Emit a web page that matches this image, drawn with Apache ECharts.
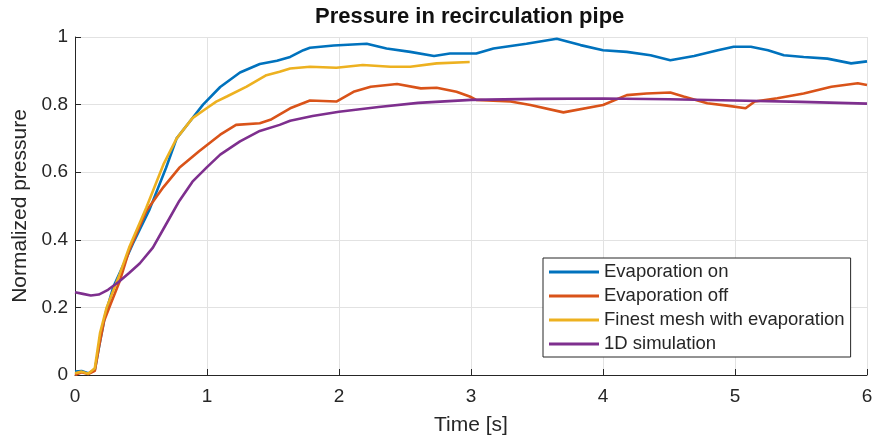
<!DOCTYPE html>
<html>
<head>
<meta charset="utf-8">
<script src="https://cdn.jsdelivr.net/npm/echarts@6/dist/echarts.min.js"></script>
<style>
html,body{margin:0;padding:0;background:#fff;}
#chart{width:872px;height:439px;}
</style>
</head>
<body>
<div id="chart"></div>
<script>
const seriesNames = ['Evaporation on', 'Evaporation off', 'Finest mesh with evaporation', '1D simulation'];
const xTicks = [0, 1, 2, 3, 4, 5, 6];
const yTicks = [0, 0.2, 0.4, 0.6, 0.8, 1];

const tOn = [0, 0.05, 0.1, 0.15, 0.19, 0.23, 0.29, 0.36, 0.44, 0.565, 0.69, 0.77, 0.87, 0.97, 1.1, 1.25, 1.4, 1.53, 1.63, 1.73, 1.78, 1.96, 2.21, 2.36, 2.54, 2.72, 2.84, 2.99, 3.04, 3.17, 3.42, 3.65, 3.83, 4.0, 4.18, 4.36, 4.51, 4.69, 4.87, 4.99, 5.12, 5.25, 5.37, 5.52, 5.70, 5.88, 6.0];
const vOn = [0.01, 0.012, 0.005, 0.015, 0.10, 0.18, 0.26, 0.32, 0.39, 0.49, 0.613, 0.70, 0.75, 0.80, 0.852, 0.895, 0.92, 0.93, 0.941, 0.961, 0.968, 0.975, 0.98, 0.966, 0.956, 0.944, 0.951, 0.951, 0.951, 0.966, 0.98, 0.995, 0.976, 0.961, 0.956, 0.946, 0.931, 0.944, 0.961, 0.971, 0.971, 0.961, 0.946, 0.941, 0.936, 0.922, 0.928];

const tOff = [0, 0.05, 0.1, 0.15, 0.18, 0.22, 0.27, 0.34, 0.41, 0.54, 0.67, 0.79, 0.94, 1.1, 1.22, 1.4, 1.48, 1.63, 1.78, 1.98, 2.11, 2.24, 2.44, 2.62, 2.74, 2.89, 2.99, 3.04, 3.3, 3.45, 3.7, 4.0, 4.18, 4.33, 4.51, 4.61, 4.79, 4.94, 5.08, 5.15, 5.32, 5.52, 5.73, 5.93, 6.0];
const vOff = [0.0, 0.008, 0.003, 0.012, 0.08, 0.16, 0.21, 0.279, 0.368, 0.485, 0.556, 0.613, 0.662, 0.711, 0.74, 0.745, 0.755, 0.789, 0.812, 0.809, 0.838, 0.853, 0.861, 0.848, 0.85, 0.838, 0.824, 0.814, 0.809, 0.799, 0.777, 0.799, 0.828, 0.833, 0.836, 0.824, 0.804, 0.797, 0.789, 0.809, 0.819, 0.833, 0.853, 0.863, 0.858];

const tFine = [0, 0.05, 0.1, 0.15, 0.19, 0.24, 0.34, 0.41, 0.54, 0.67, 0.77, 0.89, 1.0, 1.07, 1.15, 1.3, 1.45, 1.55, 1.63, 1.78, 1.98, 2.18, 2.39, 2.54, 2.74, 2.99];
const vFine = [0.005, 0.01, 0.004, 0.02, 0.125, 0.2, 0.3, 0.377, 0.495, 0.623, 0.70, 0.76, 0.79, 0.809, 0.824, 0.853, 0.887, 0.897, 0.907, 0.912, 0.909, 0.917, 0.912, 0.912, 0.922, 0.926];

const t1D = [0, 0.06, 0.12, 0.18, 0.25, 0.33, 0.41, 0.49, 0.59, 0.69, 0.79, 0.89, 1.0, 1.1, 1.25, 1.4, 1.55, 1.63, 1.8, 2.0, 2.3, 2.6, 3.0, 3.5, 4.0, 4.5, 5.0, 5.5, 6.0];
const v1D = [0.245, 0.24, 0.235, 0.238, 0.252, 0.275, 0.302, 0.33, 0.377, 0.446, 0.515, 0.572, 0.615, 0.652, 0.691, 0.722, 0.74, 0.752, 0.766, 0.779, 0.793, 0.805, 0.814, 0.817, 0.818, 0.816, 0.812, 0.808, 0.803];

const colors = ['#0072BD', '#D95319', '#EDB120', '#7E2F8E'];
const pairs = (ts, vs) => ts.map((t, i) => [t, vs[i]]);
const allData = [pairs(tOn, vOn), pairs(tOff, vOff), pairs(tFine, vFine), pairs(t1D, v1D)];

const FONT = '"Liberation Sans", Arial, Helvetica, sans-serif';
const TXT = '#262626';

const chart = echarts.init(document.getElementById('chart'), null, {renderer: 'canvas'});
chart.setOption({
  animation: false,
  backgroundColor: '#ffffff',
  color: colors,
  textStyle: {fontFamily: FONT},
  title: {
    text: 'Pressure in recirculation pipe',
    left: 315, top: 6, padding: 0,
    textStyle: {fontFamily: FONT, fontSize: 22, fontWeight: 'bold', color: '#111'}
  },
  grid: {left: 75, right: 5, top: 37, bottom: 64, outerBoundsMode: 'none', containLabel: false},
  legend: {
    orient: 'vertical',
    left: 543, top: 258,
    padding: [4, 6, 3, 6],
    itemGap: 4,
    itemWidth: 50, itemHeight: 3,
    icon: 'rect',
    borderColor: '#262626', borderWidth: 1,
    backgroundColor: '#fff',
    textStyle: {fontFamily: FONT, fontSize: 18.5, color: TXT, lineHeight: 20},
    data: seriesNames
  },
  xAxis: {
    type: 'value', min: xTicks[0], max: xTicks[xTicks.length - 1], interval: 1,
    name: 'Time [s]', nameLocation: 'middle', nameGap: 40,
    nameTextStyle: {fontFamily: FONT, fontSize: 21, color: TXT},
    axisLine: {lineStyle: {color: TXT, width: 1}},
    axisTick: {inside: true, length: 6, lineStyle: {color: TXT}},
    axisLabel: {fontFamily: FONT, fontSize: 19, color: TXT, margin: 12},
    splitLine: {show: true, lineStyle: {color: '#e2e2e2', width: 1}}
  },
  yAxis: {
    type: 'value', min: yTicks[0], max: yTicks[yTicks.length - 1], interval: 0.2,
    name: 'Normalized pressure', nameLocation: 'middle', nameGap: 43,
    nameTextStyle: {fontFamily: FONT, fontSize: 21, color: TXT},
    axisLine: {show: true, lineStyle: {color: TXT, width: 1}},
    axisTick: {show: true, inside: true, length: 6, lineStyle: {color: TXT}},
    axisLabel: {fontFamily: FONT, fontSize: 19, color: TXT, margin: 7,
      formatter: v => (v === 0 || v === 1) ? String(v) : v.toFixed(1)},
    splitLine: {show: true, lineStyle: {color: '#e2e2e2', width: 1}}
  },
  series: seriesNames.map((name, i) => ({
    name: name,
    type: 'line',
    data: allData[i],
    showSymbol: false,
    symbol: 'none',
    lineStyle: {width: 2.6, color: colors[i]},
    itemStyle: {color: colors[i]},
    z: 2 + i
  }))
});
</script>
</body>
</html>
